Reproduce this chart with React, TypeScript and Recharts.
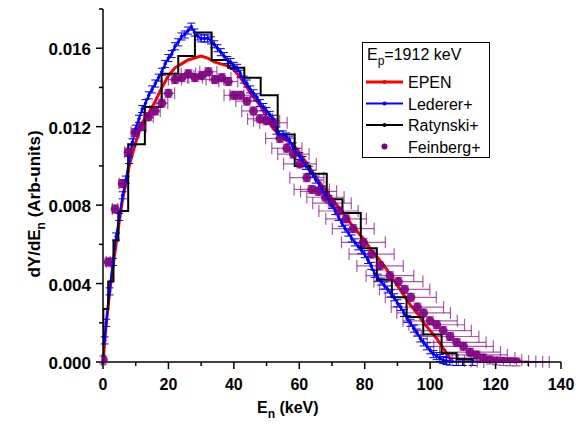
import React from 'react';
import {
  ComposedChart,
  Line,
  Scatter,
  XAxis,
  YAxis,
  ErrorBar,
  Legend,
  Label
} from 'recharts';

// E_n (keV), dY/dE_n
const epenE = [0, 1, 2, 3, 4, 5, 6, 8, 10, 12, 14, 16, 18, 20, 22, 24, 26, 28, 30, 32, 34, 36, 38, 40,
  42, 44, 46, 48, 50, 52, 54, 56, 58, 60, 62, 64, 66, 68, 70, 72, 74, 76, 78, 80, 82, 84, 86, 88,
  90, 92, 94, 96, 98, 100, 102, 104, 106, 107];
const epenY = [0, 0.0020, 0.0035, 0.0048, 0.0060, 0.0072, 0.0083, 0.0100, 0.0112, 0.0122, 0.0127, 0.0133,
  0.0140, 0.0146, 0.0150, 0.0152, 0.0154, 0.0155, 0.0156, 0.0155, 0.0153, 0.0152, 0.0151, 0.0149,
  0.0145, 0.0140, 0.0135, 0.0131, 0.0125, 0.0119, 0.0116, 0.0113, 0.0111, 0.0107, 0.0102, 0.0097,
  0.0092, 0.0088, 0.0083, 0.0079, 0.0075, 0.0070, 0.0066, 0.0062, 0.0057, 0.0053, 0.0049, 0.0044,
  0.0039, 0.0034, 0.0029, 0.0025, 0.0020, 0.0016, 0.0012, 0.0007, 0.0002, 0];

const lederer: [number, number][] = [
  [0.5, 0.0011], [1, 0.0020], [2, 0.0036], [3, 0.0051], [4, 0.0064], [5, 0.0074], [6, 0.0085],
  [7, 0.0093], [8, 0.0103], [9, 0.0112], [10, 0.0119], [11, 0.0124], [12, 0.0129], [13, 0.0132],
  [14, 0.0136], [15, 0.0139], [16, 0.0142], [17, 0.0145], [18, 0.0148], [19, 0.0152], [20, 0.0155],
  [21, 0.0157], [22, 0.0161], [23, 0.0163], [24, 0.0166], [25, 0.0167], [26, 0.0169], [27, 0.0171],
  [28, 0.0168], [29, 0.0166], [30, 0.0165], [31, 0.0165], [32, 0.0165], [33, 0.0164], [34, 0.0162],
  [35, 0.0160], [36, 0.0158], [37, 0.0156], [38, 0.0154], [39, 0.0153], [40, 0.0151], [41, 0.0150],
  [42, 0.0147], [43, 0.0144], [44, 0.0142], [45, 0.0139], [46, 0.0137], [47, 0.0135], [48, 0.0132],
  [49, 0.0130], [50, 0.0128], [51, 0.0126], [52, 0.0124], [53, 0.0118], [54, 0.0116], [55, 0.0116],
  [56, 0.0115], [57, 0.0113], [58, 0.0110], [59, 0.0107], [60, 0.0105], [61, 0.0103], [62, 0.0100],
  [63, 0.0098], [64, 0.0096], [65, 0.0093], [66, 0.0091], [67, 0.0088], [68, 0.0085], [69, 0.0083],
  [70, 0.0080], [71, 0.0077], [72, 0.0074], [73, 0.0071], [74, 0.0068], [75, 0.0066], [76, 0.0063],
  [77, 0.0061], [78, 0.0059], [79, 0.0057], [80, 0.0055], [81, 0.0052], [82, 0.0049], [83, 0.0045],
  [84, 0.0043], [85, 0.0041], [86, 0.0039], [87, 0.0037], [88, 0.0035], [89, 0.0033], [90, 0.0030],
  [91, 0.0028], [92, 0.0025], [93, 0.0022], [94, 0.0020], [95, 0.0017], [96, 0.0015], [97, 0.0012],
  [98, 0.0010], [99, 0.0008], [100, 0.0006], [101, 0.0004], [102, 0.0003], [103, 0.0002],
  [104, 0.0001], [105, 0.00005], [106, 0.00002], [108, 0], [110, 0], [113, 0]
];

// histogram bin left edges and heights
const ratynski: [number, number][] = [
  [0, 0], [0.1, 0.0027], [1.6, 0.0041], [3.2, 0.0062], [4.7, 0.0077], [7.7, 0.0111], [12.8, 0.0130],
  [17.9, 0.0147], [23.0, 0.0156], [28.1, 0.0168], [33.2, 0.0154], [38.3, 0.0150], [43.2, 0.0145],
  [48.2, 0.0136], [53.4, 0.0116], [58.6, 0.0100], [63.3, 0.0096], [68.4, 0.0083], [73.2, 0.0076],
  [78.8, 0.0058], [83.7, 0.0042], [88.3, 0.0033], [92.8, 0.0023], [97.9, 0.0014], [103.5, 0.00045],
  [108.1, 0.00014], [113.0, 0]
];

// E, dY/dE, E half-width
const feinberg: [number, number, number][] = [
  [0.1, 0.0001, 0.5], [1.6, 0.0051, 0.6], [3.7, 0.0078, 0.8], [5.9, 0.0091, 1.0], [7.7, 0.0107, 1.1],
  [9.8, 0.0117, 1.2], [11.8, 0.0120, 1.4], [13.9, 0.0125, 1.5], [15.9, 0.0128, 1.6], [18.0, 0.0132, 1.8],
  [20.0, 0.0137, 1.9], [22.0, 0.0144, 2.0], [24.1, 0.0145, 2.1], [26.1, 0.0147, 2.2], [28.1, 0.0145, 2.3],
  [30.2, 0.0146, 2.4], [32.2, 0.0148, 2.6], [34.2, 0.0144, 2.7], [36.3, 0.0145, 2.8], [38.3, 0.0143, 2.9],
  [40.0, 0.0136, 3.0], [42.0, 0.0136, 3.2], [44.0, 0.0133, 3.4], [46.0, 0.0128, 3.6], [48.0, 0.0124, 3.8],
  [50.0, 0.0123, 4.0], [52.1, 0.0122, 4.2], [54.1, 0.0114, 4.4], [56.2, 0.0109, 4.6], [58.2, 0.0106, 4.8],
  [60.2, 0.0101, 5.0], [62.3, 0.0094, 5.2], [63.8, 0.0088, 5.4], [65.9, 0.0087, 5.5], [68.0, 0.0084, 5.7],
  [70.0, 0.0081, 5.9], [72.0, 0.0077, 6.0], [74.3, 0.0073, 6.2], [76.5, 0.0068, 6.4], [79.6, 0.0061, 6.7],
  [82.1, 0.0055, 6.9], [84.7, 0.0049, 7.1], [87.7, 0.0044, 7.3], [90.3, 0.0041, 7.5], [92.2, 0.0037, 7.7],
  [94.1, 0.0033, 7.8], [96.1, 0.0028, 8.0], [98.0, 0.0025, 8.2], [100.0, 0.0021, 8.3], [102.0, 0.0019, 8.5],
  [104.0, 0.0016, 8.6], [106.1, 0.0013, 8.8], [108.1, 0.0010, 9.0], [110.2, 0.0008, 9.1],
  [112.2, 0.0005, 9.3], [114.2, 0.00036, 9.4], [116.3, 0.0002, 9.6], [118.3, 0.0001, 9.7],
  [120.3, 0.00005, 9.8], [122.4, 0.00002, 9.9], [124.4, 0.00001, 10.0], [126.4, 0, 10.0]
];
const feinbergYErr = 0.0002;
const ledererYErr = 0.00018;

const xTicks = [0, 10, 20, 30, 40, 50, 60, 70, 80, 90, 100, 110, 120, 130, 140];
const yTicks = [0, 0.002, 0.004, 0.006, 0.008, 0.01, 0.012, 0.014, 0.016, 0.018];

const epenData = epenE.map((x, i) => ({ x, y: epenY[i] }));
const ledererData = lederer.map(([x, y]) => ({ x, y, ey: ledererYErr }));
const ratynskiData = ratynski.map(([x, y]) => ({ x, y }));
const feinbergData = feinberg.map(([x, y, ex]) => ({ x, y, ex, ey: feinbergYErr }));

const PURPLE = '#800080';
const font = '"Liberation Sans", Arial, sans-serif';

const XTick = (props: any) => {
  const { x, y, payload } = props;
  const major = payload.value % 20 === 0;
  return (
    <g>
      <line x1={x} x2={x} y1={y} y2={y + (major ? 7 : 4)} stroke="#000" strokeWidth={1.5} />
      {major && (
        <text x={x} y={y + 28} textAnchor="middle" fontFamily={font} fontWeight="bold" fontSize={16} fill="#000">
          {payload.value}
        </text>
      )}
    </g>
  );
};

const YTick = (props: any) => {
  const { x, y, payload } = props;
  const major = Math.round(payload.value * 1000) % 4 === 0;
  return (
    <g>
      <line x1={x - (major ? 7 : 4)} x2={x} y1={y} y2={y} stroke="#000" strokeWidth={1.5} />
      {major && (
        <text x={x - 12} y={y + 7} textAnchor="end" fontFamily={font} fontWeight="bold" fontSize={17} fill="#000">
          {payload.value.toFixed(3)}
        </text>
      )}
    </g>
  );
};

const LegendBox = () => {
  const rows = [
    { name: 'EPEN', color: '#ff0000', line: true, w: 3 },
    { name: 'Lederer+', color: '#0000ff', line: true, w: 2 },
    { name: 'Ratynski+', color: '#000000', line: true, w: 2 },
    { name: 'Feinberg+', color: PURPLE, line: false, w: 0 }
  ];
  return (
    <svg width={128} height={116} style={{ display: 'block' }}>
      <rect x={0.5} y={0.5} width={127} height={115} fill="#fff" stroke="#000" strokeWidth={1} />
      <text x={5} y={18} fontFamily={font} fontSize={16} fill="#000">
        E<tspan dy={5} fontSize={12}>p</tspan><tspan dy={-5}>=1912 keV</tspan>
      </text>
      {rows.map((r, i) => {
        const cy = 40 + i * 21.5;
        return (
          <g key={r.name}>
            {r.line && <line x1={4} x2={41} y1={cy} y2={cy} stroke={r.color} strokeWidth={r.w} />}
            <circle cx={22.5} cy={cy} r={r.line ? 2 : 3} fill={r.color} />
            <text x={46} y={cy + 6} fontFamily={font} fontSize={16} fill="#000">{r.name}</text>
          </g>
        );
      })}
    </svg>
  );
};

export default function App() {
  return (
    <div style={{ position: 'absolute', left: 0, top: 0, background: '#fff' }}>
      <ComposedChart width={576} height={425} margin={{ top: 9, right: 15, bottom: 0, left: 0 }}>
        <XAxis
          dataKey="x"
          type="number"
          domain={[0, 140]}
          ticks={xTicks}
          allowDataOverflow
          height={63}
          tickSize={0}
          tickMargin={0}
          tick={<XTick />}
          tickLine={false}
          axisLine={{ stroke: '#000', strokeWidth: 1.5 }}
        >
          <Label
            content={() => (
              <text x={257} y={413} fontFamily={font} fontWeight="bold" fontSize={16} fill="#000">
                E<tspan dy={5} fontSize={12}>n</tspan><tspan dy={-5}> (keV)</tspan>
              </text>
            )}
          />
        </XAxis>
        <YAxis
          type="number"
          domain={[0, 0.018]}
          ticks={yTicks}
          allowDataOverflow
          width={103}
          tickSize={0}
          tickMargin={0}
          tick={<YTick />}
          tickLine={false}
          axisLine={{ stroke: '#000', strokeWidth: 1.5 }}
        >
          <Label
            content={() => (
              <text
                x={40}
                y={204}
                transform="rotate(-90, 40, 204)"
                textAnchor="middle"
                fontFamily={font}
                fontWeight="bold"
                fontSize={17}
                fill="#000"
              >
                dY/dE<tspan dy={5} fontSize={12}>n</tspan><tspan dy={-5}> (Arb-units)</tspan>
              </text>
            )}
          />
        </YAxis>
        <Legend
          layout="horizontal"
          verticalAlign="middle"
          align="center"
          content={() => <LegendBox />}
          wrapperStyle={{ left: 362, top: 42, width: 128, height: 116 }}
        />
        <Line
          data={epenData}
          dataKey="y"
          type="linear"
          stroke="#ff0000"
          strokeWidth={3}
          dot={false}
          isAnimationActive={false}
        />
        <Scatter
          data={feinbergData}
          dataKey="y"
          fill={PURPLE}
          isAnimationActive={false}
          shape={(p: any) => <circle cx={p.cx} cy={p.cy} r={4.5} fill={PURPLE} fillOpacity={0.9} />}
        >
          <ErrorBar dataKey="ex" direction="x" width={6} stroke={PURPLE} strokeOpacity={0.65} strokeWidth={1.2} />
          <ErrorBar dataKey="ey" direction="y" width={4} stroke={PURPLE} strokeOpacity={0.65} strokeWidth={1.2} />
        </Scatter>
        <Line
          data={ledererData}
          dataKey="y"
          type="linear"
          stroke="#0000ff"
          strokeWidth={2}
          dot={{ r: 1.3, fill: '#0000ff', stroke: '#0000ff', strokeWidth: 1 }}
          isAnimationActive={false}
        >
          <ErrorBar dataKey="ey" direction="y" width={4} stroke="#0000ff" strokeWidth={1} />
        </Line>
        <Line
          data={ratynskiData}
          dataKey="y"
          type="stepAfter"
          stroke="#000"
          strokeWidth={2}
          dot={false}
          isAnimationActive={false}
        />
      </ComposedChart>
    </div>
  );
}
